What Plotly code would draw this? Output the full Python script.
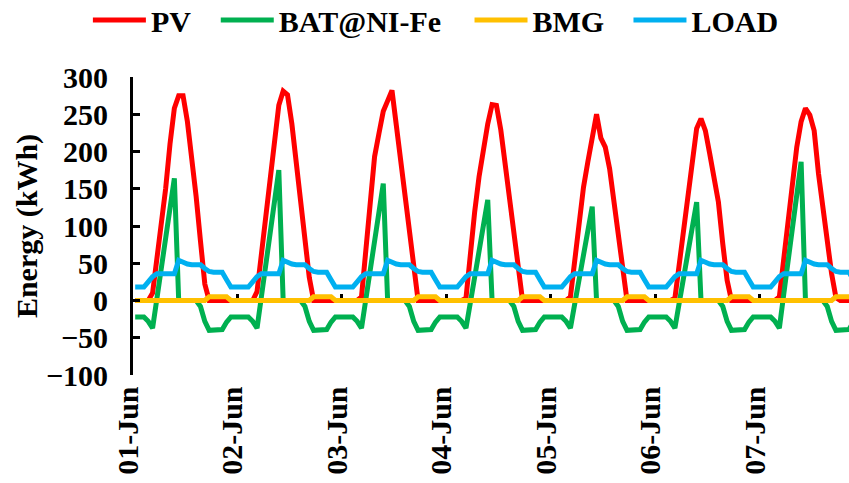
import pandas as pd
import plotly.graph_objects as go

# ---- categories ----
day_labels = ["01-Jun", "02-Jun", "03-Jun", "04-Jun", "05-Jun", "06-Jun", "07-Jun"]
day_dates = ["2023-06-01", "2023-06-02", "2023-06-03", "2023-06-04",
             "2023-06-05", "2023-06-06", "2023-06-07"]
# hourly categories (each hour drawn at the centre of its slot)
hours = pd.date_range("2023-06-01 00:30", periods=168, freq="h")

# ---- PV (kWh), hour 0..23 of each day ----
pv_d1 = [0, 0, 0, 0, 10, 55, 100, 150, 210, 258, 275, 275, 240, 195, 140, 80, 22, 0, 0, 0, 0, 0, 0, 0]
pv_d2 = [0, 0, 0, 0, 12, 64, 116, 168, 220, 262, 281, 276, 237, 185, 134, 83, 31, 0, 0, 0, 0, 0, 0, 0]
pv_d3 = [0, 0, 0, 0, 5, 68, 130, 193, 224, 254, 268, 282, 235, 186, 137, 88, 38, 0, 0, 0, 0, 0, 0, 0]
pv_d4 = [0, 0, 0, 0, 3, 64, 119, 166, 202, 237, 263, 262, 229, 182, 136, 90, 44, 0, 0, 0, 0, 0, 0, 0]
pv_d5 = [0, 0, 0, 0, 5, 58, 107, 152, 186, 219, 250, 218, 206, 177, 135, 91, 46, 0, 0, 0, 0, 0, 0, 0]
pv_d6 = [0, 0, 0, 0, 3, 50, 95, 141, 186, 231, 244, 228, 197, 164, 132, 76, 27, 0, 0, 0, 0, 0, 0, 0]
pv_d7 = [0, 0, 0, 0, 5, 59, 108, 156, 206, 240, 258, 249, 228, 170, 121, 81, 36, 4, 0, 0, 0, 0, 0, 0]

# ---- BAT@NI-Fe (kWh) ----
bat_d1 = [-22, -22, -22, -28, -37, 3, 43, 84, 124, 164, 0, 0, 0, 0, 0, -8, -28, -40, -40, -40, -39, -29, -22, -22]
bat_d2 = [-22, -22, -22, -28, -37, 5, 48, 90, 133, 175, 0, 0, 0, 0, 0, -8, -28, -40, -40, -40, -39, -29, -22, -22]
bat_d3 = [-22, -22, -22, -28, -37, 2, 41, 79, 118, 157, 0, 0, 0, 0, 0, -8, -28, -40, -40, -40, -39, -29, -22, -22]
bat_d4 = [-22, -22, -22, -28, -37, -3, 32, 66, 101, 135, 0, 0, 0, 0, 0, -8, -28, -40, -40, -40, -39, -29, -22, -22]
bat_d5 = [-22, -22, -22, -28, -37, -4, 28, 61, 93, 126, 0, 0, 0, 0, 0, -8, -28, -40, -40, -40, -39, -29, -22, -22]
bat_d6 = [-22, -22, -22, -28, -37, -3, 31, 64, 98, 132, 0, 0, 0, 0, 0, -8, -28, -40, -40, -40, -39, -29, -22, -22]
bat_d7 = [-22, -22, -22, -28, -37, 8, 52, 97, 141, 186, 0, 0, 0, 0, 0, -8, -28, -40, -40, -40, -39, -29, -22, -22]

# ---- BMG (kWh) ----
bmg_day = [0, 0, 0, 0, 0, 0, 0, 0, 0, 0, 0, 0, 0, 0, 0, 0, 0, 5, 5, 5, 5, 5, 0, 0]

# ---- LOAD (kWh) ----
load_day = [18, 18, 18, 25, 32, 36, 36, 36, 36, 36, 54, 51, 49, 48, 48, 48, 43, 39, 38, 38, 38, 28, 18, 18]

pv = pv_d1 + pv_d2 + pv_d3 + pv_d4 + pv_d5 + pv_d6 + pv_d7
bat = bat_d1 + bat_d2 + bat_d3 + bat_d4 + bat_d5 + bat_d6 + bat_d7
bmg = bmg_day * 7
load = load_day * 7

series = [
    ("PV", pv, "#FF0000", "legend", -0.063),
    ("BAT@NI-Fe", bat, "#00B050", "legend2", 0.1156),
    ("BMG", bmg, "#FFC000", "legend3", 0.470),
    ("LOAD", load, "#00B0F0", "legend4", 0.692),
]

FONT = "Times New Roman, Liberation Serif, serif"
LFONT = dict(family=FONT, size=30, color="black", weight="bold")

fig = go.Figure()
legends = {}
for name, vals, color, leg, lx in series:
    fig.add_trace(go.Scatter(x=hours, y=vals, mode="lines", name=name, legend=leg,
                             line=dict(color=color, width=5)))
    legends[leg] = dict(orientation="h", x=lx, xanchor="left",
                        yref="container", y=0.9586, yanchor="middle",
                        font=LFONT, itemwidth=53, bgcolor="rgba(0,0,0,0)")

fig.update_layout(
    width=849, height=483,
    margin=dict(l=133, r=0, t=77, b=108, autoexpand=False),
    plot_bgcolor="white", paper_bgcolor="white",
    font=dict(family=FONT, size=30, color="black", weight="bold"),
    showlegend=True,
    **legends,
)
fig.update_xaxes(
    type="date",
    range=["2023-06-01 00:00", "2023-06-07 20:30"],
    tickvals=day_dates, ticktext=day_labels,
    anchor="free", position=0.25,
    ticks="inside", ticklen=7, tickwidth=3, tickcolor="black",
    showline=False, showgrid=False, zeroline=False,
    tickangle=-90, ticklabelstandoff=79, ticklabelshift=-5,
    layer="below traces",
    tickfont=dict(family=FONT, size=30, color="black", weight="bold"),
)
fig.update_yaxes(
    range=[-100, 300], tickvals=[-100, -50, 0, 50, 100, 150, 200, 250, 300],
    showline=True, linewidth=3, linecolor="black",
    ticks="inside", ticklen=7, tickwidth=3, tickcolor="black",
    showgrid=False, zeroline=False,
    ticklabelstandoff=16,
    tickfont=dict(family=FONT, size=30, color="black", weight="bold"),
    title=dict(text="Energy (kWh)", standoff=0,
               font=dict(family=FONT, size=30, color="black", weight="bold")),
)

fig.write_html("out.html")
